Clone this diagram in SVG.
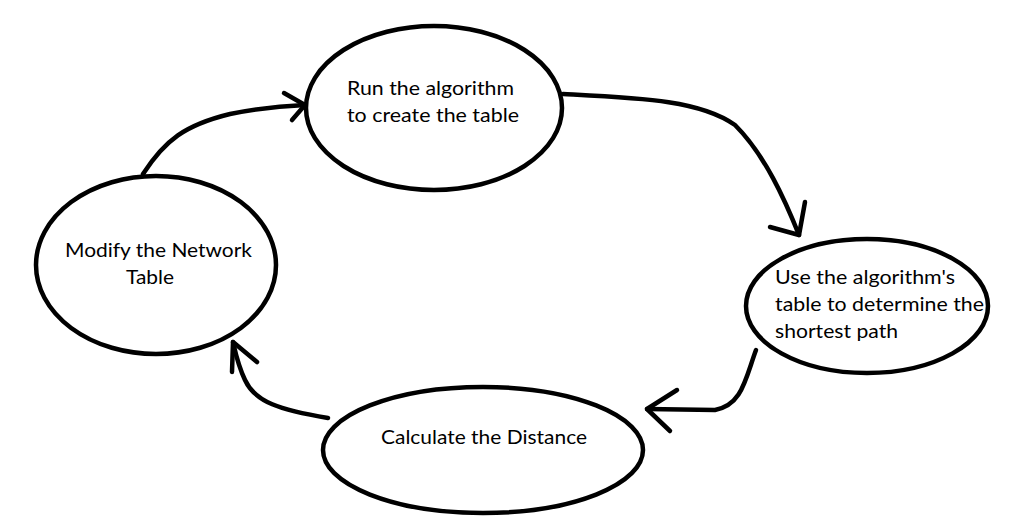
<svg xmlns="http://www.w3.org/2000/svg" width="1020" height="524" viewBox="0 0 1020 524">
<style>
.node ellipse{fill:#fff;stroke:#000;stroke-width:4.5}
.lbl{font-family:Lato,"Liberation Sans",sans-serif;font-size:20px;fill:#000}
.conn path{fill:none;stroke:#000;stroke-width:4.5;stroke-linecap:round;stroke-linejoin:round}
</style>
<rect width="1020" height="524" fill="#fff"/>
<g id="n-run" class="node">
<ellipse cx="434" cy="108" rx="128" ry="82"/>
<text class="lbl" x="347" y="95" textLength="167" lengthAdjust="spacingAndGlyphs">Run the algorithm</text>
<text class="lbl" x="347" y="122" textLength="172" lengthAdjust="spacingAndGlyphs">to create the table</text>
</g>
<g id="n-use" class="node">
<ellipse cx="867" cy="306" rx="121" ry="67"/>
<text class="lbl" x="775" y="284" textLength="180" lengthAdjust="spacingAndGlyphs">Use the algorithm's</text>
<text class="lbl" x="775" y="311" textLength="209" lengthAdjust="spacingAndGlyphs">table to determine the</text>
<text class="lbl" x="775" y="338" textLength="123" lengthAdjust="spacingAndGlyphs">shortest path</text>
</g>
<g id="n-calc" class="node">
<ellipse cx="483" cy="450" rx="160" ry="63"/>
<text class="lbl" x="381" y="444" textLength="206" lengthAdjust="spacingAndGlyphs">Calculate the Distance</text>
</g>
<g id="n-modify" class="node">
<ellipse cx="156" cy="265" rx="120" ry="89"/>
<text class="lbl" x="65" y="257" textLength="187" lengthAdjust="spacingAndGlyphs">Modify the Network</text>
<text class="lbl" x="126" y="284" textLength="48" lengthAdjust="spacingAndGlyphs">Table</text>
</g>
<g id="connectors" class="conn">
<path d="M143,174 C165,140 185,125 230,114 C260,108 280,106 305,105"/>
<path d="M284,93 L305,105 L292,120"/>
<path d="M563,94 C640,98 700,100 735,125 C765,155 785,200 799,235"/>
<path d="M805,202 L799,235 L770,227"/>
<path d="M756,350 C745,380 742,405 715,410 L647,409"/>
<path d="M677,390 L647,409 L670,431"/>
<path d="M328,418 C280,410 255,402 245,380 C238,365 236,355 233,342"/>
<path d="M232,372 L233,342 L257,362"/>
</g>
</svg>
